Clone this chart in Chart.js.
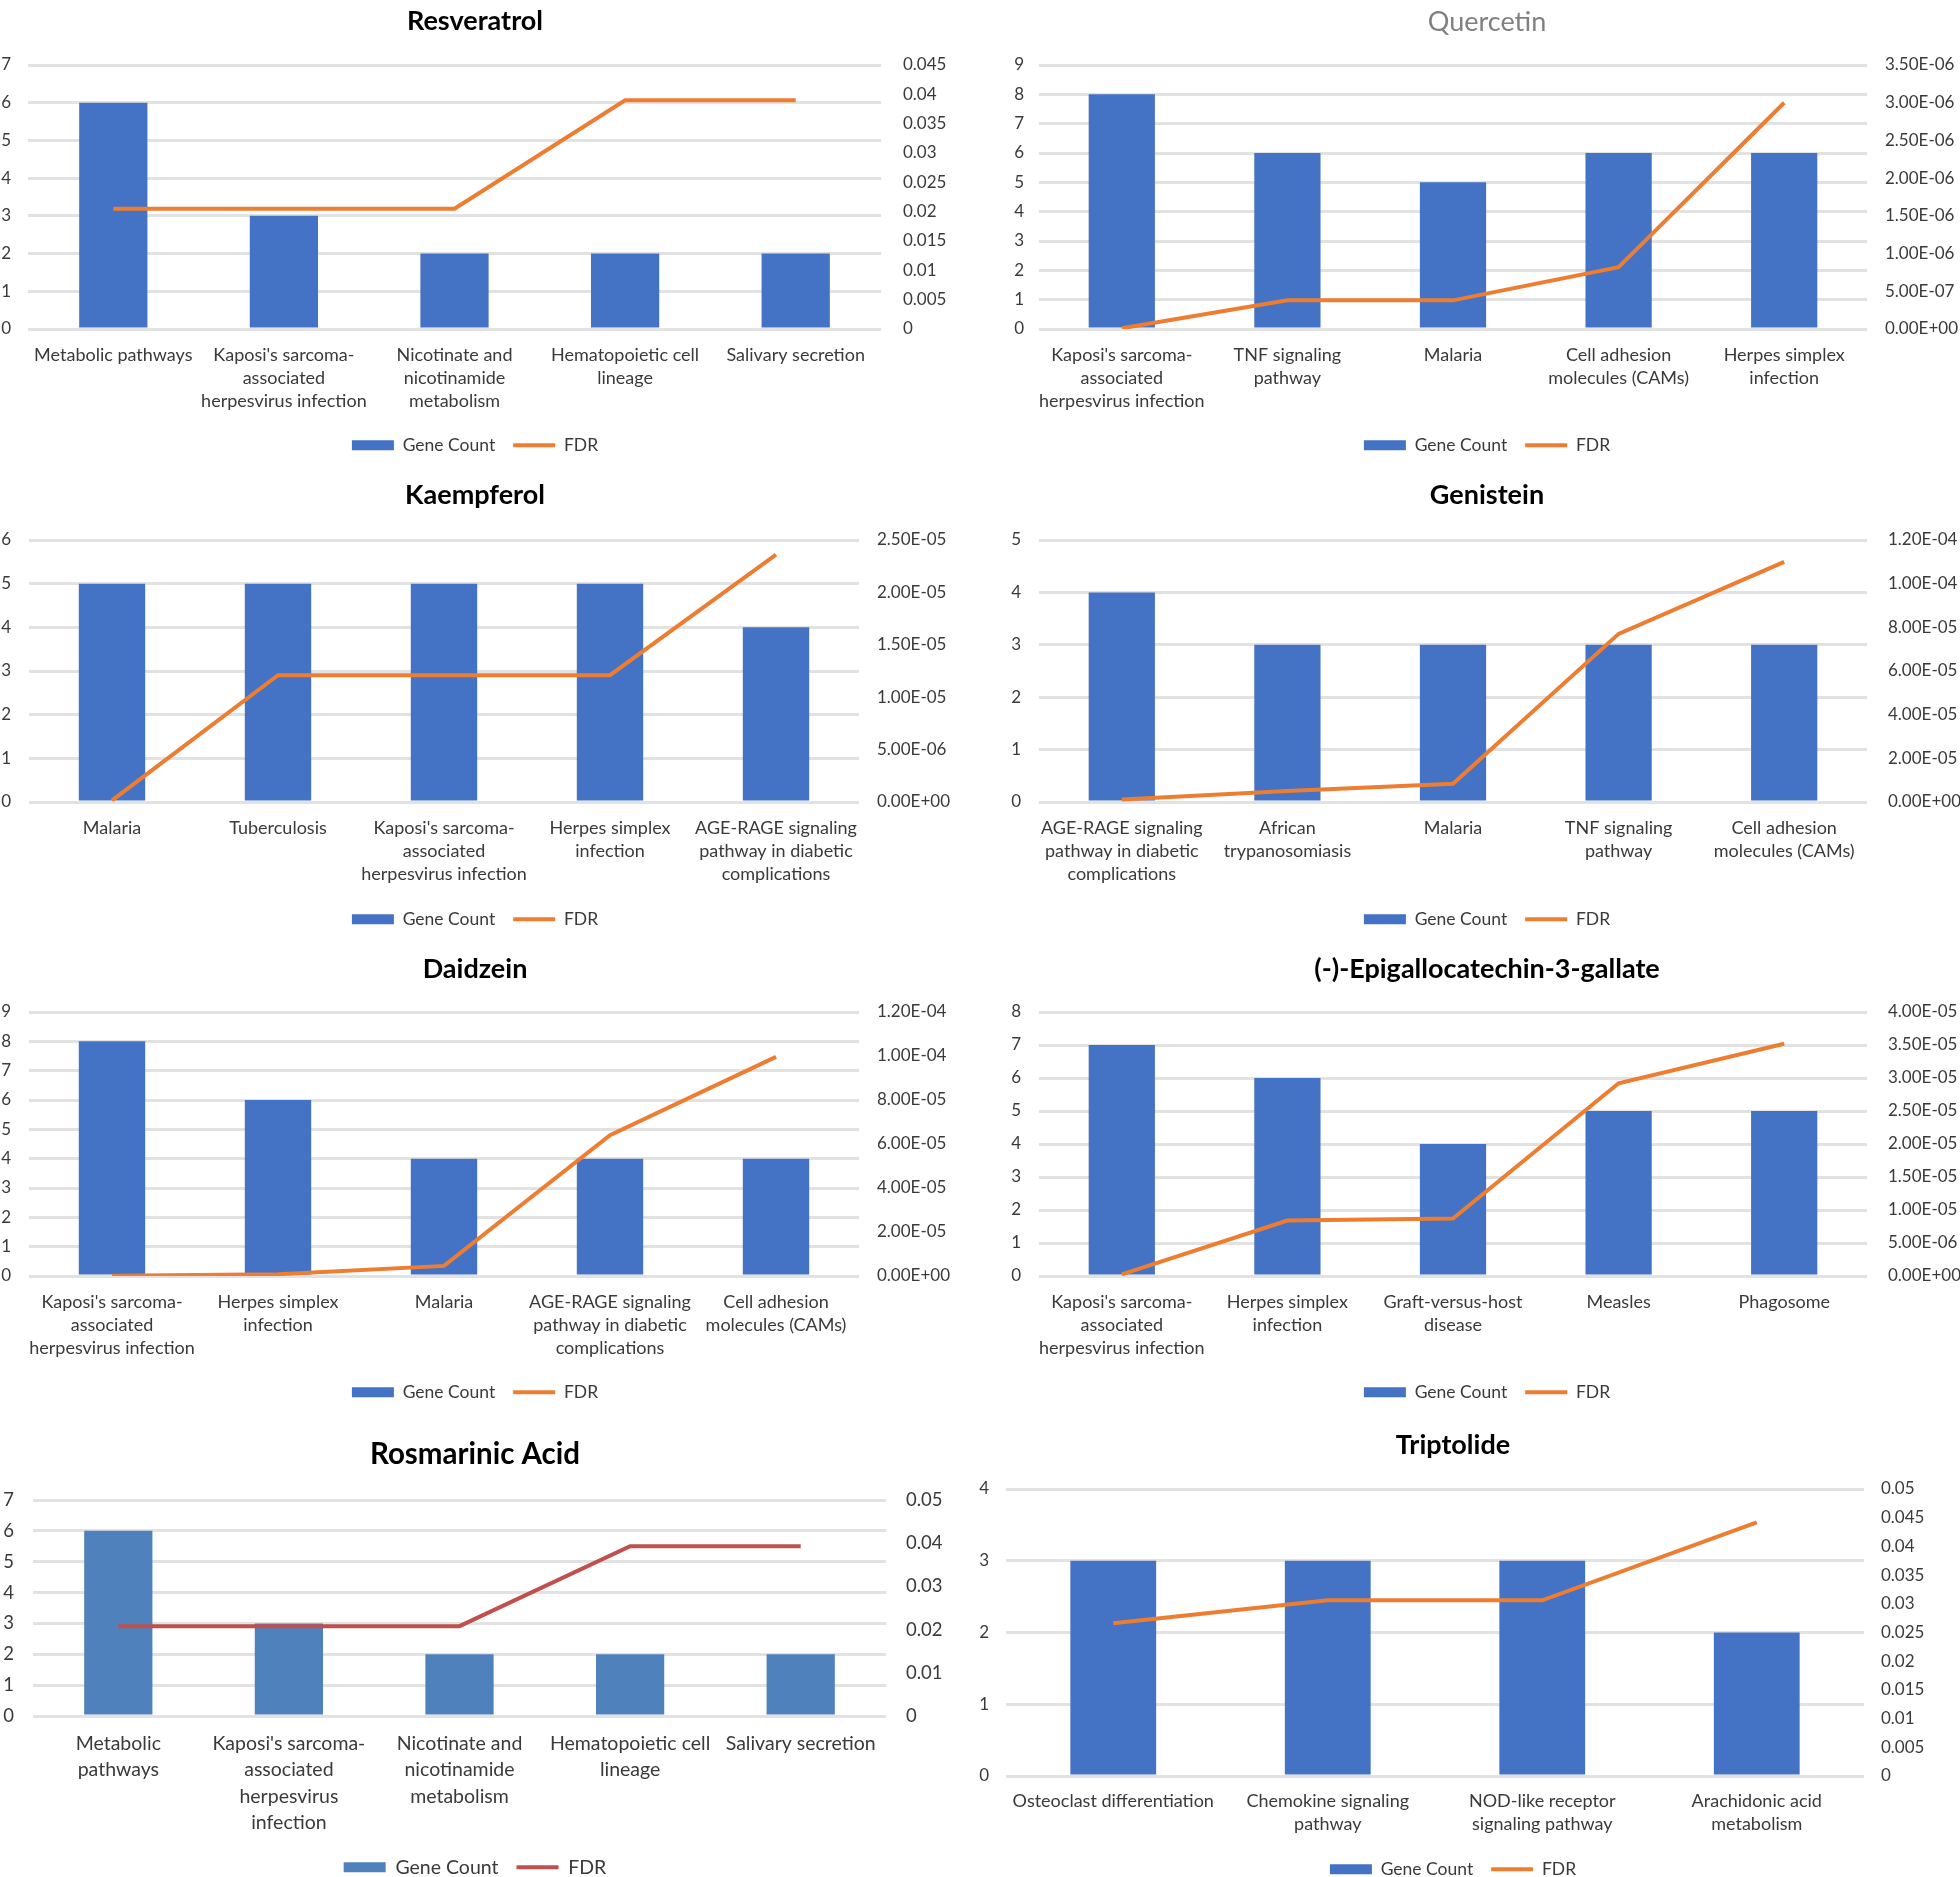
<!DOCTYPE html>
<html><head><meta charset="utf-8">
<script src="https://cdn.jsdelivr.net/npm/chart.js@4.4.1/dist/chart.umd.min.js"></script>
<style>
html,body{margin:0;padding:0;background:#fff;overflow:hidden;width:1960px;height:1877px;position:relative;}
canvas{position:absolute;}
</style></head><body>
<canvas id="c1"></canvas><canvas id="c2"></canvas><canvas id="c3"></canvas><canvas id="c4"></canvas>
<canvas id="c5"></canvas><canvas id="c6"></canvas><canvas id="c7"></canvas><canvas id="c8"></canvas>
<script>
// ---------------- DATA ----------------
const seriesNames = ["Gene Count", "FDR"];

const resveratrolTitle = "Resveratrol";
const resveratrolCategories = [["Metabolic pathways"], ["Kaposi's sarcoma-","associated","herpesvirus infection"], ["Nicotinate and","nicotinamide","metabolism"], ["Hematopoietic cell","lineage"], ["Salivary secretion"]];
const resveratrolGeneCount = [6, 3, 2, 2, 2];
const resveratrolFDR = [0.0205, 0.0205, 0.0205, 0.039, 0.039];
const resveratrolFdrTicks = ['0','0.005','0.01','0.015','0.02','0.025','0.03','0.035','0.04','0.045'];

const quercetinTitle = "Quercetin";
const quercetinCategories = [["Kaposi's sarcoma-","associated","herpesvirus infection"], ["TNF signaling","pathway"], ["Malaria"], ["Cell adhesion","molecules (CAMs)"], ["Herpes simplex","infection"]];
const quercetinGeneCount = [8, 6, 5, 6, 6];
const quercetinFDR = [1.0e-8, 3.8e-7, 3.8e-7, 8.2e-7, 3.0e-6];
const quercetinFdrTicks = ['0.00E+00','5.00E-07','1.00E-06','1.50E-06','2.00E-06','2.50E-06','3.00E-06','3.50E-06'];

const kaempferolTitle = "Kaempferol";
const kaempferolCategories = [["Malaria"], ["Tuberculosis"], ["Kaposi's sarcoma-","associated","herpesvirus infection"], ["Herpes simplex","infection"], ["AGE-RAGE signaling","pathway in diabetic","complications"]];
const kaempferolGeneCount = [5, 5, 5, 5, 4];
const kaempferolFDR = [1.5e-7, 1.21e-5, 1.21e-5, 1.21e-5, 2.36e-5];
const kaempferolFdrTicks = ['0.00E+00','5.00E-06','1.00E-05','1.50E-05','2.00E-05','2.50E-05'];

const genisteinTitle = "Genistein";
const genisteinCategories = [["AGE-RAGE signaling","pathway in diabetic","complications"], ["African","trypanosomiasis"], ["Malaria"], ["TNF signaling","pathway"], ["Cell adhesion","molecules (CAMs)"]];
const genisteinGeneCount = [4, 3, 3, 3, 3];
const genisteinFDR = [1.1e-6, 5.0e-6, 8.4e-6, 7.7e-5, 1.1e-4];
const genisteinFdrTicks = ['0.00E+00','2.00E-05','4.00E-05','6.00E-05','8.00E-05','1.00E-04','1.20E-04'];

const daidzeinTitle = "Daidzein";
const daidzeinCategories = [["Kaposi's sarcoma-","associated","herpesvirus infection"], ["Herpes simplex","infection"], ["Malaria"], ["AGE-RAGE signaling","pathway in diabetic","complications"], ["Cell adhesion","molecules (CAMs)"]];
const daidzeinGeneCount = [8, 6, 4, 4, 4];
const daidzeinFDR = [1.0e-7, 8.0e-7, 4.6e-6, 6.4e-5, 9.96e-5];
const daidzeinFdrTicks = ['0.00E+00','2.00E-05','4.00E-05','6.00E-05','8.00E-05','1.00E-04','1.20E-04'];

const egcgTitle = "(-)-Epigallocatechin-3-gallate";
const egcgCategories = [["Kaposi's sarcoma-","associated","herpesvirus infection"], ["Herpes simplex","infection"], ["Graft-versus-host","disease"], ["Measles"], ["Phagosome"]];
const egcgGeneCount = [7, 6, 4, 5, 5];
const egcgFDR = [2.5e-7, 8.4e-6, 8.7e-6, 2.92e-5, 3.52e-5];
const egcgFdrTicks = ['0.00E+00','5.00E-06','1.00E-05','1.50E-05','2.00E-05','2.50E-05','3.00E-05','3.50E-05','4.00E-05'];

const rosmarinicTitle = "Rosmarinic Acid";
const rosmarinicCategories = [["Metabolic","pathways"], ["Kaposi's sarcoma-","associated","herpesvirus","infection"], ["Nicotinate and","nicotinamide","metabolism"], ["Hematopoietic cell","lineage"], ["Salivary secretion"]];
const rosmarinicGeneCount = [6, 3, 2, 2, 2];
const rosmarinicFDR = [0.0208, 0.0208, 0.0208, 0.0393, 0.0393];
const rosmarinicFdrTicks = ['0','0.01','0.02','0.03','0.04','0.05'];

const triptolideTitle = "Triptolide";
const triptolideCategories = [["Osteoclast differentiation"], ["Chemokine signaling","pathway"], ["NOD-like receptor","signaling pathway"], ["Arachidonic acid","metabolism"]];
const triptolideGeneCount = [3, 3, 3, 2];
const triptolideFDR = [0.0266, 0.0306, 0.0306, 0.0442];
const triptolideFdrTicks = ['0','0.005','0.01','0.015','0.02','0.025','0.03','0.035','0.04','0.045','0.05'];

// ---------------- LAYOUT / STYLE ----------------
const FONT = 'Lato, "Liberation Sans", sans-serif';
const TEXT = '#3a3a3a';
const GRID = '#e2e2e2';

const panels = [
  {id:'c1', title:resveratrolTitle, cats:resveratrolCategories, bars:resveratrolGeneCount, line:resveratrolFDR, rTicks:resveratrolFdrTicks,
   yMax:7, rMax:0.045, rStep:0.005,
   L:{left:0, width:950, plotLeft:28, plotRight:881, titleY:21, plotTop:65, plotBottom:329, legendY:445, lPad:17, rPad:22}},
  {id:'c2', title:quercetinTitle, cats:quercetinCategories, bars:quercetinGeneCount, line:quercetinFDR, rTicks:quercetinFdrTicks,
   yMax:9, rMax:3.5e-6, rStep:5e-7, titleColor:'#808080', titleWeight:'normal',
   L:{left:990, width:994, plotLeft:1039, plotRight:1867, titleY:22, plotTop:65, plotBottom:329, legendY:445, lPad:15, rPad:18}},
  {id:'c3', title:kaempferolTitle, cats:kaempferolCategories, bars:kaempferolGeneCount, line:kaempferolFDR, rTicks:kaempferolFdrTicks,
   yMax:6, rMax:2.5e-5, rStep:5e-6,
   L:{left:0, width:950, plotLeft:29, plotRight:859, titleY:495, plotTop:540, plotBottom:802, legendY:919, lPad:18, rPad:18}},
  {id:'c4', title:genisteinTitle, cats:genisteinCategories, bars:genisteinGeneCount, line:genisteinFDR, rTicks:genisteinFdrTicks,
   yMax:5, rMax:1.2e-4, rStep:2e-5,
   L:{left:990, width:994, plotLeft:1039, plotRight:1867, titleY:495, plotTop:540, plotBottom:802, legendY:919, lPad:18, rPad:21}},
  {id:'c5', title:daidzeinTitle, cats:daidzeinCategories, bars:daidzeinGeneCount, line:daidzeinFDR, rTicks:daidzeinFdrTicks,
   yMax:9, rMax:1.2e-4, rStep:2e-5,
   L:{left:0, width:950, plotLeft:29, plotRight:859, titleY:969, plotTop:1012, plotBottom:1276, legendY:1392, lPad:18, rPad:18}},
  {id:'c6', title:egcgTitle, cats:egcgCategories, bars:egcgGeneCount, line:egcgFDR, rTicks:egcgFdrTicks,
   yMax:8, rMax:4e-5, rStep:5e-6,
   L:{left:990, width:994, plotLeft:1039, plotRight:1867, titleY:969, plotTop:1012, plotBottom:1276, legendY:1392, lPad:18, rPad:21}},
  {id:'c7', title:rosmarinicTitle, cats:rosmarinicCategories, bars:rosmarinicGeneCount, line:rosmarinicFDR, rTicks:rosmarinicFdrTicks,
   yMax:7, rMax:0.05, rStep:0.01, barColor:'#4F81BD', lineColor:'#C0504D',
   L:{left:0, width:950, plotLeft:33, plotRight:886, titleY:1454, plotTop:1500, plotBottom:1716, legendY:1867, lPad:19, rPad:20,
      titleSize:29.5, tickSize:18.5, catSize:19.5, catLH:26.5, legendSize:19.5}},
  {id:'c8', title:triptolideTitle, cats:triptolideCategories, bars:triptolideGeneCount, line:triptolideFDR, rTicks:triptolideFdrTicks,
   yMax:4, rMax:0.05, rStep:0.005,
   L:{left:946, width:1014, plotLeft:1006, plotRight:1864, titleY:1445, plotTop:1489, plotBottom:1776, legendY:1869, lPad:17, rPad:17, catLH:23}},
];

function build(p) {
  const L = p.L;
  const titleSize = L.titleSize || 27;
  const tickSize = L.tickSize || 17;
  const catSize = L.catSize || 18;
  const catLH = L.catLH || 23.4;
  const legSize = L.legendSize || 17.5;
  const legPad = 18;
  const Ct = Math.round(L.titleY - titleSize * 0.6 - 4);
  const titlePadTop = L.titleY - Ct - titleSize * 0.6;
  const titlePadBottom = L.plotTop - L.titleY - titleSize * 0.6;
  const H = Math.round(L.legendY - Ct + 10 + legSize / 2);
  const legendTop = Ct + H - (legSize + legPad + 10);
  const xAxisH = legendTop - L.plotBottom;
  const leftW = L.plotLeft - L.left;
  const rightW = L.left + L.width - L.plotRight;
  const xPad = 14;

  const cv = document.getElementById(p.id);
  cv.width = L.width; cv.height = H;
  cv.style.left = L.left + 'px'; cv.style.top = Ct + 'px';
  cv.style.width = L.width + 'px'; cv.style.height = H + 'px';

  const barColor = p.barColor || '#4472C4';
  const lineColor = p.lineColor || '#ED7D31';

  new Chart(cv, {
    type: 'bar',
    data: {
      labels: p.cats,
      datasets: [
        {type:'bar', label:seriesNames[0], data:p.bars, backgroundColor:barColor, borderWidth:0,
         barPercentage:0.4, categoryPercentage:1.0, yAxisID:'y', order:2, pointStyle:'rect'},
        {type:'line', label:seriesNames[1], data:p.line, borderColor:lineColor, backgroundColor:lineColor,
         borderWidth:4, pointRadius:0, tension:0, yAxisID:'y1', order:1, pointStyle:'line'}
      ]
    },
    options: {
      responsive:false, animation:false, devicePixelRatio:1,
      layout:{padding:0},
      plugins:{
        tooltip:{enabled:false},
        title:{display:true, text:p.title, color:p.titleColor || '#000000',
               font:{family:FONT, size:titleSize, weight:p.titleWeight || 'bold', lineHeight:1.2},
               padding:{top:titlePadTop, bottom:titlePadBottom}},
        legend:{display:true, position:'bottom',
                labels:{usePointStyle:true, pointStyleWidth:42, boxHeight:10, padding:legPad, color:TEXT,
                        font:{family:FONT, size:legSize},
                        sort:(a,b)=>a.datasetIndex-b.datasetIndex}}
      },
      scales:{
        x:{grid:{display:false, drawTicks:false}, border:{display:false},
           ticks:{autoSkip:false, maxRotation:0, minRotation:0, padding:xPad, color:TEXT,
                  font:{family:FONT, size:catSize, lineHeight:catLH / catSize}},
           afterFit:(s)=>{ s.height = xAxisH; }},
        y:{position:'left', min:0, max:p.yMax,
           ticks:{stepSize:1, padding:L.lPad, color:TEXT, font:{family:FONT, size:tickSize}},
           grid:{color:GRID, lineWidth:3, drawTicks:false}, border:{display:false},
           afterFit:(s)=>{ s.width = leftW; }},
        y1:{position:'right', min:0, max:p.rMax,
            ticks:{stepSize:p.rStep, padding:L.rPad, color:TEXT, font:{family:FONT, size:tickSize},
                   callback:(v)=> p.rTicks[Math.round(v / p.rStep)]},
            grid:{display:false, drawTicks:false}, border:{display:false},
            afterFit:(s)=>{ s.width = rightW; }}
      }
    }
  });
}
panels.forEach(build);
</script>
</body></html>
